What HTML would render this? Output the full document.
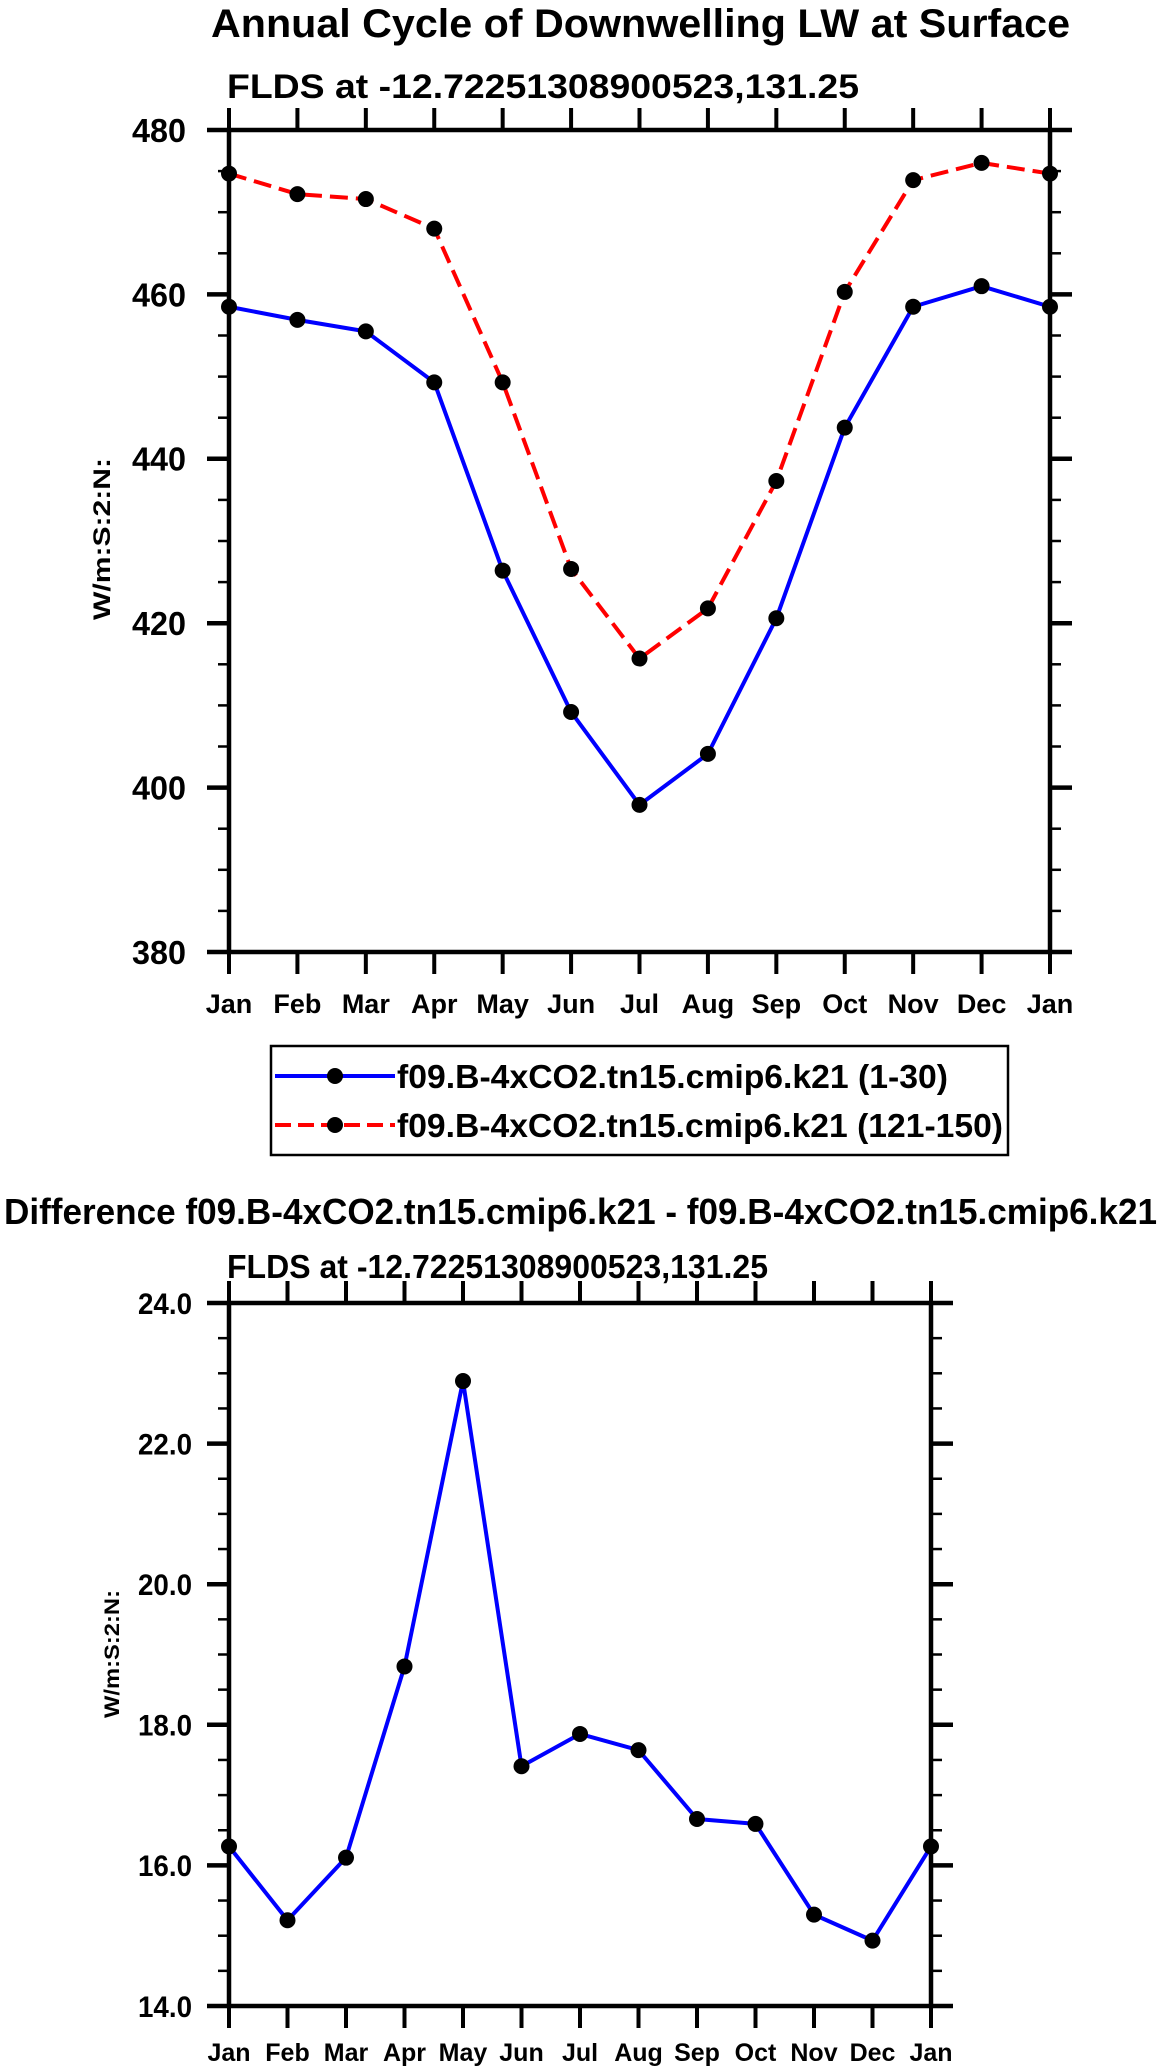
<!DOCTYPE html>
<html><head><meta charset="utf-8"><style>
html,body{margin:0;padding:0;background:#fff;}
svg{display:block;font-family:"Liberation Sans",Arial,sans-serif;font-weight:bold;}
</style></head><body>
<svg id="s" width="1161" height="2069" viewBox="0 0 1161 2069" xmlns="http://www.w3.org/2000/svg">
<text x="211" y="37" font-size="40" textLength="859" lengthAdjust="spacingAndGlyphs">Annual Cycle of Downwelling LW at Surface</text>
<text x="227" y="98" font-size="34" textLength="632" lengthAdjust="spacingAndGlyphs">FLDS at -12.72251308900523,131.25</text>
<text transform="translate(110,539) rotate(-90)" text-anchor="middle" font-size="24" textLength="162" lengthAdjust="spacingAndGlyphs">W/m:S:2:N:</text>
<g id="top"></g>
<rect x="271" y="1046" width="737" height="109" fill="none" stroke="#000" stroke-width="2.5"/>
<g>
<line x1="275" y1="1076" x2="395" y2="1076" stroke="#0000ff" stroke-width="4"/>
<circle cx="335" cy="1076" r="8" fill="#000"/>
<text x="397" y="1088" font-size="33" textLength="551" lengthAdjust="spacingAndGlyphs">f09.B-4xCO2.tn15.cmip6.k21 (1-30)</text>
</g>
<g>
<line x1="275" y1="1125" x2="395" y2="1125" stroke="#ff0000" stroke-width="4" stroke-dasharray="16,7"/>
<circle cx="335" cy="1125" r="8" fill="#000"/>
<text x="397" y="1137" font-size="33" textLength="606" lengthAdjust="spacingAndGlyphs">f09.B-4xCO2.tn15.cmip6.k21 (121-150)</text>
</g>
<text x="4" y="1224" font-size="36" textLength="1153" lengthAdjust="spacingAndGlyphs">Difference f09.B-4xCO2.tn15.cmip6.k21 - f09.B-4xCO2.tn15.cmip6.k21</text>
<text x="227" y="1278" font-size="33" textLength="541" lengthAdjust="spacingAndGlyphs">FLDS at -12.72251308900523,131.25</text>
<text transform="translate(119,1654) rotate(-90)" text-anchor="middle" font-size="21" textLength="128" lengthAdjust="spacingAndGlyphs">W/m:S:2:N:</text>
<g id="bot"></g>
</svg>
<script>
const months = ["Jan","Feb","Mar","Apr","May","Jun","Jul","Aug","Sep","Oct","Nov","Dec","Jan"];
const series130 = [458.5,456.9,455.5,449.3,426.4,409.2,397.9,404.1,420.6,443.8,458.5,461.0,458.5];
const series121150 = [474.7,472.2,471.6,468.0,449.3,426.6,415.7,421.8,437.3,460.3,473.9,476.0,474.7];
const diffValues = [16.27,15.22,16.11,18.83,22.89,17.41,17.87,17.64,16.66,16.59,15.30,14.93,16.27];
const topTicks = [380,400,420,440,460,480];
const botTicks = ["14.0","16.0","18.0","20.0","22.0","24.0"];

const NS="http://www.w3.org/2000/svg";
function mk(parent,tag,attrs){const e=document.createElementNS(NS,tag);for(const k in attrs)e.setAttribute(k,attrs[k]);parent.appendChild(e);return e;}

function panel(g,cfg){
  const {x0,x1,y0,y1,vmin,vmax,minor,majorTicks,tickLabels,lblX,lblFont,lblW,monFont,monY}=cfg;
  const xs=i=>x0+(x1-x0)*i/(months.length-1);
  const ys=v=>y1-(v-vmin)/(vmax-vmin)*(y1-y0);
  const frame=mk(g,'rect',{x:x0,y:y0,width:x1-x0,height:y1-y0,fill:'none',stroke:'#000','stroke-width':4.5});
  
  
  for(let v=vmin;v<=vmax+1e-9;v+=minor){
    const isMajor=majorTicks.some(t=>Math.abs(parseFloat(t)-v)<1e-6);
    const L=isMajor?22:11;
    const t1=mk(g,'line',{x1:x0-L,x2:x0,y1:ys(v),y2:ys(v),stroke:'#000','stroke-width':isMajor?4.5:2.5});
    
    
    const t2=mk(g,'line',{x1:x1,x2:x1+L,y1:ys(v),y2:ys(v),stroke:'#000','stroke-width':isMajor?4.5:2.5});
    
    
  }
  majorTicks.forEach((t,i)=>{
    const tx=mk(g,'text',{x:lblX,y:ys(parseFloat(t))+lblFont*0.36,'text-anchor':'end','font-size':lblFont,textLength:lblW,lengthAdjust:'spacingAndGlyphs'});
    tx.textContent=tickLabels[i];
    
    
  });
  months.forEach((m,i)=>{
    const a=mk(g,'line',{x1:xs(i),x2:xs(i),y1:y1,y2:y1+22,stroke:'#000','stroke-width':4});
    
    
    const b=mk(g,'line',{x1:xs(i),x2:xs(i),y1:y0-22,y2:y0,stroke:'#000','stroke-width':4});
    
    
    const t=mk(g,'text',{x:xs(i),y:monY,'text-anchor':'middle','font-size':monFont});
    t.textContent=m;
    
    
  });
  return {xs,ys};
}
function series(g,ax,vals,color,dash,name){
  const p=mk(g,'polyline',{points:vals.map((v,i)=>ax.xs(i)+','+ax.ys(v)).join(' '),fill:'none',stroke:color,'stroke-width':4,'stroke-dasharray':dash||'none','stroke-linejoin':'round'});
  
  
  vals.forEach((v,i)=>{
    const c=mk(g,'circle',{cx:ax.xs(i),cy:ax.ys(v),r:8,fill:'#000'});
    
    
  });
}
const gt=document.getElementById('top');


const axT=panel(gt,{x0:229,x1:1050,y0:130,y1:952,vmin:380,vmax:480,minor:5,majorTicks:topTicks,tickLabels:topTicks.map(String),lblX:186,lblFont:33,lblW:54,monFont:27,monY:1013});
series(gt,axT,series130,'#0000ff',null,'series-1-30');
series(gt,axT,series121150,'#ff0000','18,8','series-121-150');
const gb=document.getElementById('bot');


const axB=panel(gb,{x0:229,x1:931,y0:1303,y1:2006,vmin:14,vmax:24,minor:0.5,majorTicks:botTicks,tickLabels:botTicks,lblX:192,lblFont:30,lblW:54,monFont:25,monY:2061});
series(gb,axB,diffValues,'#0000ff',null,'difference');
</script>
</body></html>
